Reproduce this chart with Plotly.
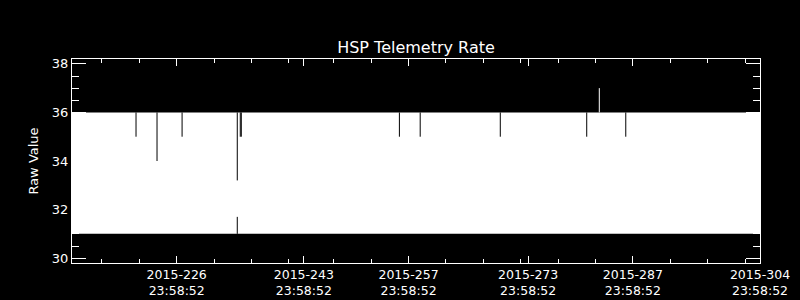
import plotly.graph_objects as go
from datetime import datetime, timedelta

# ---- data (day-of-year 2015, fractional) ----
TOD = (23 * 3600 + 58 * 60 + 52) / 86400.0  # 23:58:52 as fraction of a day

range_start_doy = 212 + TOD
range_end_doy = 304 + TOD

major_tick_doy = [226, 243, 257, 273, 287, 304]
major_tick_labels = ["2015-226<br>23:58:52", "2015-243<br>23:58:52", "2015-257<br>23:58:52",
                     "2015-273<br>23:58:52", "2015-287<br>23:58:52", "2015-304<br>23:58:52"]
minor_tick_doy = [216, 221, 231, 236, 241, 247, 252, 262, 267, 272, 277, 282, 292, 297, 302]

# nominal envelope of the telemetry rate (min / max of raw value)
band_low = 31
band_high = 36

# columns where the values do not reach the envelope (gaps)
gap_doy = [221.56, 224.37, 227.72, 235.10, 235.10, 235.50, 235.64, 256.78, 259.56, 270.27, 281.83, 287.05]
gap_top = [36, 36, 36, 36, 31.7, 36, 36, 36, 36, 36, 36, 36]
gap_bottom = [35, 34, 35, 33.2, 31, 35, 35, 35, 35, 35, 35, 35]

# excursion above the envelope
spike_doy = [283.51]
spike_low = [36]
spike_high = [37]


def doy_to_dt(doy):
    return datetime(2015, 1, 1) + timedelta(days=doy - 1)


def seg_xy(doys, y0s, y1s):
    xs, ys = [], []
    for d, a, b in zip(doys, y0s, y1s):
        t = doy_to_dt(d)
        xs += [t, t, None]
        ys += [a, b, None]
    return xs, ys


x_band = [doy_to_dt(range_start_doy), doy_to_dt(range_end_doy)]

fig = go.Figure()
fig.add_trace(go.Scatter(x=x_band, y=[band_low, band_low], mode="lines",
                         line=dict(width=0, color="white"), hoverinfo="skip", showlegend=False))
fig.add_trace(go.Scatter(x=x_band, y=[band_high, band_high], mode="lines", fill="tonexty",
                         fillcolor="white", line=dict(width=0, color="white"),
                         hoverinfo="skip", showlegend=False))
gx, gy = seg_xy(gap_doy, gap_top, gap_bottom)
fig.add_trace(go.Scatter(x=gx, y=gy, mode="lines", line=dict(width=1, color="black"),
                         showlegend=False))
sx, sy = seg_xy(spike_doy, spike_low, spike_high)
fig.add_trace(go.Scatter(x=sx, y=sy, mode="lines", line=dict(width=1, color="white"),
                         showlegend=False))

FONT = "DejaVu Sans"
fig.update_layout(
    width=800, height=300,
    margin=dict(l=72, r=40, t=59, b=37, autoexpand=False),
    paper_bgcolor="black", plot_bgcolor="black",
    font=dict(family=FONT, size=13, color="white"),
    showlegend=False,
    title=dict(text="HSP Telemetry Rate", x=0.5, xref="paper", xanchor="center",
               y=1 - 47 / 300, yref="container", yanchor="middle",
               font=dict(family=FONT, size=16, color="white")),
    xaxis=dict(
        type="date", automargin=False,
        range=[doy_to_dt(range_start_doy), doy_to_dt(range_end_doy)],
        tickmode="array",
        tickvals=[doy_to_dt(d + TOD) for d in major_tick_doy],
        ticktext=major_tick_labels,
        ticks="inside", ticklen=7, tickwidth=1, tickcolor="white",
        showline=True, linecolor="white", linewidth=1, mirror="ticks",
        showgrid=False, zeroline=False,
        tickfont=dict(family=FONT, size=12.5, color="white"),
        minor=dict(tickmode="array", tickvals=[doy_to_dt(d + TOD) for d in minor_tick_doy],
                   ticks="inside", ticklen=4, tickwidth=1, tickcolor="white", showgrid=False),
    ),
    yaxis=dict(
        range=[29.8, 38.2], automargin=False,
        tickmode="array", tickvals=[30, 32, 34, 36, 38], ticktext=["30", "32", "34", "36", "38"],
        ticks="inside", ticklen=14, tickwidth=1, tickcolor="white",
        showline=True, linecolor="white", linewidth=1, mirror="ticks",
        showgrid=False, zeroline=False,
        tickfont=dict(family=FONT, size=13, color="white"),
        title=dict(text="Raw Value", standoff=10, font=dict(family=FONT, size=13, color="white")),
        minor=dict(dtick=0.5, tick0=30, ticks="inside", ticklen=7, tickwidth=1,
                   tickcolor="white", showgrid=False),
    ),
)

fig.write_html("out.html")
